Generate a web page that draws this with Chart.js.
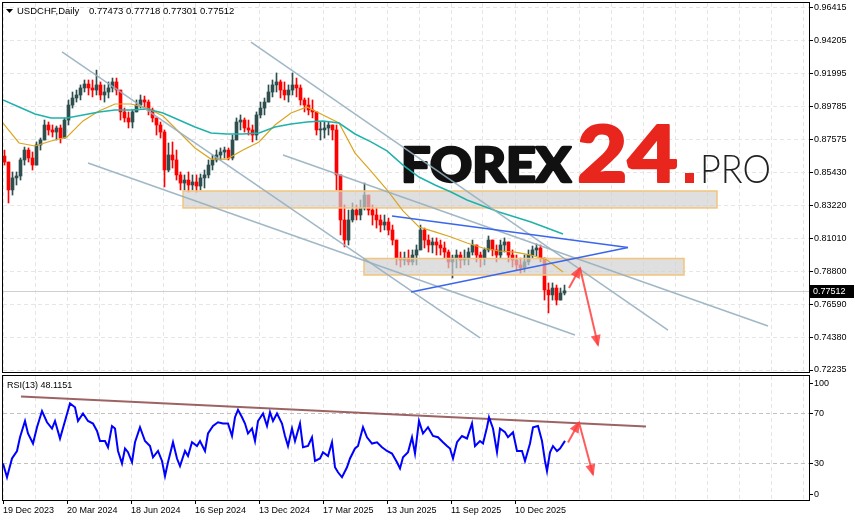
<!DOCTYPE html>
<html>
<head>
<meta charset="utf-8">
<script src="https://cdn.jsdelivr.net/npm/chart.js@4.4.1/dist/chart.umd.min.js"></script>
<style>
  html, body { margin: 0; padding: 0; background: #fff; }
  #wrap { position: relative; width: 855px; height: 521px; overflow: hidden; }
  #priceChart { position: absolute; left: 0; top: 0; }
  #rsiChart { position: absolute; left: 0; top: 373px; }
</style>
</head>
<body>
<div id="wrap">
  <canvas id="priceChart" width="855" height="376"></canvas>
  <canvas id="rsiChart" width="855" height="148"></canvas>
</div>
<script>
// USDCHF daily, one candle here = 4 trading days, day 0 = 19 Dec 2023
const daysPerCandle = 4;
const firstOpen = 0.8650;

const closes = [
  0.8610,0.8424,0.8504,0.8517,0.8624,0.8690,0.8637,0.8590,0.8724,0.8757,
  0.8857,0.8824,0.8810,0.8837,0.8770,0.8890,0.8990,0.9037,0.9057,0.9104,
  0.9130,0.9104,0.9090,0.9124,0.9057,0.9077,0.9104,0.9144,0.9090,0.8944,
  0.8904,0.8877,0.8944,0.8990,0.9024,0.9010,0.8957,0.8904,0.8857,0.8810,
  0.8557,0.8657,0.8624,0.8524,0.8470,0.8490,0.8457,0.8477,0.8450,0.8504,
  0.8524,0.8590,0.8624,0.8657,0.8677,0.8690,0.8637,0.8757,0.8877,0.8890,
  0.8837,0.8824,0.8790,0.8924,0.8970,0.9010,0.9077,0.9124,0.9144,0.9090,
  0.9057,0.9090,0.9124,0.9104,0.9024,0.8990,0.8957,0.8944,0.8824,0.8824,
  0.8837,0.8857,0.8824,0.8524,0.8224,0.8090,0.8224,0.8290,0.8257,0.8304,
  0.8390,0.8290,0.8257,0.8224,0.8190,0.8210,0.8157,0.8090,0.7970,0.7957,
  0.7970,0.7944,0.7990,0.8024,0.8157,0.8090,0.8057,0.8077,0.8057,0.8037,
  0.8010,0.7944,0.7970,0.7990,0.7957,0.7970,0.8010,0.8057,0.7990,0.7970,
  0.8024,0.8090,0.8024,0.7990,0.8057,0.8077,0.7990,0.7957,0.7924,0.7904,
  0.7944,0.7990,0.8024,0.8037,0.7970,0.7757,0.7724,0.7770,0.7690,0.7737,
  0.77512
];
const highs = [
  0.8690,0.8590,0.8544,0.8544,0.8637,0.8710,0.8704,0.8677,0.8744,0.8770,
  0.8890,0.8877,0.8857,0.8850,0.8857,0.8904,0.9024,0.9077,0.9090,0.9124,
  0.9157,0.9157,0.9157,0.9223,0.9144,0.9124,0.9144,0.9170,0.9170,0.9057,
  0.8970,0.8944,0.8957,0.9024,0.9057,0.9050,0.9024,0.8970,0.8904,0.8877,
  0.8824,0.8737,0.8744,0.8690,0.8544,0.8524,0.8544,0.8524,0.8524,0.8530,
  0.8557,0.8624,0.8657,0.8690,0.8704,0.8710,0.8704,0.8790,0.8904,0.8924,
  0.8904,0.8890,0.8857,0.8944,0.9010,0.9037,0.9124,0.9157,0.9204,0.9157,
  0.9144,0.9124,0.9204,0.9170,0.9124,0.9037,0.9037,0.9024,0.8904,0.8877,
  0.8877,0.8877,0.8857,0.8857,0.8524,0.8324,0.8290,0.8337,0.8324,0.8357,
  0.8470,0.8390,0.8324,0.8304,0.8257,0.8257,0.8237,0.8190,0.8057,0.8010,
  0.8010,0.8024,0.8024,0.8057,0.8190,0.8170,0.8124,0.8104,0.8104,0.8090,
  0.8077,0.8024,0.7990,0.8024,0.8010,0.8024,0.8037,0.8090,0.8057,0.8010,
  0.8037,0.8117,0.8090,0.8057,0.8090,0.8104,0.8057,0.8024,0.7990,0.7970,
  0.7990,0.8024,0.8050,0.8064,0.8057,0.7970,0.7804,0.7804,0.7790,0.7770,
  0.7790
];
const lows = [
  0.8590,0.8337,0.8390,0.8457,0.8490,0.8590,0.8610,0.8557,0.8637,0.8690,
  0.8757,0.8790,0.8777,0.8757,0.8737,0.8790,0.8857,0.8970,0.9010,0.9024,
  0.9077,0.9057,0.9044,0.9057,0.9024,0.9010,0.9037,0.9077,0.9057,0.8890,
  0.8877,0.8837,0.8837,0.8944,0.8970,0.8970,0.8924,0.8877,0.8790,0.8770,
  0.8444,0.8544,0.8570,0.8490,0.8424,0.8424,0.8410,0.8424,0.8410,0.8424,
  0.8437,0.8504,0.8557,0.8610,0.8624,0.8637,0.8624,0.8624,0.8757,0.8824,
  0.8810,0.8790,0.8744,0.8757,0.8904,0.8924,0.9024,0.9044,0.9077,0.9037,
  0.9024,0.9010,0.9057,0.9044,0.8990,0.8944,0.8924,0.8904,0.8790,0.8757,
  0.8770,0.8790,0.8757,0.8424,0.8124,0.8044,0.8057,0.8210,0.8224,0.8224,
  0.8290,0.8257,0.8190,0.8170,0.8144,0.8157,0.8124,0.8057,0.7924,0.7910,
  0.7924,0.7924,0.7924,0.7924,0.8024,0.8037,0.8010,0.8004,0.7990,0.7990,
  0.7970,0.7904,0.7837,0.7904,0.7904,0.7924,0.7924,0.7990,0.7944,0.7910,
  0.7924,0.8010,0.7984,0.7944,0.7970,0.8010,0.7944,0.7910,0.7890,0.7870,
  0.7877,0.7924,0.7970,0.7984,0.7944,0.7690,0.7604,0.7690,0.7657,0.7690,
  0.7724
];

// moving averages, one reading every 16 days
const maStep = 16;
const maFast = [
  0.8870,0.8737,0.8717,0.8750,0.8777,0.8884,0.8950,0.8997,0.8997,0.8970,
  0.8917,0.8810,0.8704,0.8630,0.8630,0.8690,0.8744,0.8857,0.8937,0.8977,
  0.8924,0.8870,0.8670,0.8550,0.8424,0.8284,0.8177,0.8144,0.8110,0.8070,
  0.8037,0.8017,0.8010,0.7990,0.7957,0.7877
];
const maSlow = [
  0.9024,0.8977,0.8930,0.8904,0.8904,0.8924,0.8944,0.8957,0.8957,0.8964,
  0.8937,0.8890,0.8844,0.8804,0.8797,0.8797,0.8804,0.8844,0.8864,0.8877,
  0.8884,0.8870,0.8797,0.8744,0.8684,0.8590,0.8510,0.8457,0.8410,0.8357,
  0.8317,0.8277,0.8244,0.8210,0.8170,0.8130
];

// RSI(13)
const rsiDays = [
  0,4,9,14,17,22,25,30,34,39,
  44,49,52,57,62,67,72,75,80,85,
  90,94,97,102,105,109,112,115,119,122,
  125,129,132,137,142,147,150,155,159,162,
  165,170,174,177,182,185,189,194,197,202,
  205,210,215,220,225,229,232,235,239,242,
  245,249,252,255,260,264,267,270,274,279,
  282,285,289,292,297,300,305,309,312,317,
  320,325,329,332,335,339,344,347,352,355,
  360,364,369,374,379,384,389,394,397,400,
  405,409,412,416,420,425,430,435,440,444,
  447,450,454,459,464,469,472,477,480,484,
  486,490,494,497,502,505,510,514,519,522,
  527,530,535,539,542,544,547,550,554,557,
  562
];
const rsiValues = [
  30,19,34,40,51,64,54,46,59,72,
  63,58,64,50,64,78,75,64,70,64,
  62,56,48,48,43,60,58,40,30,42,
  39,31,47,59,48,44,35,40,32,20,
  31,47,34,28,40,36,47,44,48,40,
  54,60,63,62,62,52,67,73,67,62,
  54,58,48,64,70,60,71,64,70,62,
  52,44,58,48,62,43,44,51,32,34,
  39,36,47,27,23,19,27,34,42,44,
  59,51,46,47,43,40,38,31,26,35,
  39,51,38,64,54,59,52,51,47,44,
  42,34,47,52,50,62,44,48,46,59,
  67,58,39,58,55,51,55,40,40,32,
  46,59,60,48,32,24,39,44,40,42,
  48.1151
];

const priceTicks = [0.96415, 0.94205, 0.91995, 0.89785, 0.87575, 0.85430, 0.83220, 0.81010, 0.78800, 0.76590, 0.74380, 0.72235];
const dateLabels = ["19 Dec 2023", "20 Mar 2024", "18 Jun 2024", "16 Sep 2024", "13 Dec 2024", "17 Mar 2025", "13 Jun 2025", "11 Sep 2025", "10 Dec 2025"];
const rsiTickText = ["0", "30", "70", "100"];
const lastBar = [0.77473, 0.77718, 0.77301, 0.77512];

// hand drawn objects on the chart: [day, value, day, value]
const greyLines = [
  [59, 0.9344, 477, 0.7437],
  [248, 0.9410, 665, 0.7490],
  [280, 0.8657, 765, 0.7517],
  [85, 0.8604, 572, 0.7457]
];
const blueLines = [
  [389, 0.8250, 625, 0.8041],
  [408, 0.7744, 625, 0.8041]
];
const priceArrows = [
  [566, 0.7770, 577, 0.7904],
  [577, 0.7904, 595, 0.7390]
];
const rsiTrend = [18, 83.6, 643, 59.6];
const rsiArrows = [
  [565, 46.8, 576, 62.8],
  [576, 62.8, 590, 21.2]
];
// [fromDay, toDay, top price, bottom price]
const zones = [
  [180, 714, 0.8417, 0.8304],
  [361, 681, 0.7967, 0.7857]
];

const totalDays = 806;
const gridStep = 32;
const labelStep = 64;
const bullColor = "#2f4f4f";
const bearColor = "#ff0000";

Chart.defaults.font.family = '"Liberation Sans", Arial, sans-serif';
Chart.defaults.font.size = 9;
Chart.defaults.color = "#000";

// build candle bars
let opens = closes.map((c, k) => k === 0 ? firstOpen : closes[k - 1]);
let wickData = [];
let bodyData = [];
let candleColors = [];
for (let k = 0; k < closes.length; k++) {
  let x = k * daysPerCandle + 1.5;
  let o = opens[k], c = closes[k];
  wickData.push({ x: x, y: [Math.min(lows[k], o, c), Math.max(highs[k], o, c)] });
  bodyData.push({ x: x, y: [o, c] });
  candleColors.push(c >= o ? bullColor : bearColor);
}

function segment(seg) {
  return [{ x: seg[0], y: seg[1] }, { x: seg[2], y: seg[3] }];
}
function lineSet(data, color, width, order, extra) {
  return Object.assign({
    type: "line", data: data, borderColor: color, borderWidth: width,
    pointRadius: 0, fill: false, tension: 0, order: order
  }, extra || {});
}

function xAxis(withLabels) {
  let isLabel = v => v % labelStep === 0 && v / labelStep < dateLabels.length;
  return {
    type: "linear", min: 0, max: totalDays, offset: false,
    afterBuildTicks: s => {
      s.ticks = [];
      for (let d = 0; d < totalDays; d += gridStep) s.ticks.push({ value: d });
    },
    ticks: {
      display: withLabels, autoSkip: false, maxRotation: 0, minRotation: 0,
      align: "start", padding: 1,
      callback: v => isLabel(v) ? dateLabels[v / labelStep] : ""
    },
    grid: {
      offset: false, color: "#e6e6e6", drawTicks: withLabels, tickLength: 3,
      tickColor: c => (c.tick && isLabel(c.tick.value)) ? "#000" : "rgba(0,0,0,0)"
    },
    border: { display: false, dash: [4, 3] },
    afterFit: s => { s.height = withLabels ? 20 : 0; s.paddingLeft = 0; s.paddingRight = 0; }
  };
}

// frame round the plot area
const framePlugin = {
  id: "frame",
  afterDatasetsDraw(chart) {
    let a = chart.chartArea, ctx = chart.ctx;
    ctx.save();
    ctx.strokeStyle = "#000";
    ctx.lineWidth = 1;
    ctx.strokeRect(a.left - 0.5, a.top - 0.5, a.right - a.left + 1, a.bottom - a.top);
    ctx.restore();
  }
};

// arrow heads on datasets marked with arrowHead
const arrowPlugin = {
  id: "arrows",
  afterDatasetsDraw(chart) {
    let ctx = chart.ctx;
    chart.data.datasets.forEach((ds, i) => {
      if (!ds.arrowHead) return;
      let pts = chart.getDatasetMeta(i).data;
      let p1 = pts[pts.length - 2], p2 = pts[pts.length - 1];
      let ang = Math.atan2(p2.y - p1.y, p2.x - p1.x);
      ctx.save();
      ctx.translate(p2.x, p2.y);
      ctx.rotate(ang);
      ctx.fillStyle = ds.borderColor;
      ctx.beginPath();
      ctx.moveTo(2, 0);
      ctx.lineTo(-10, -5);
      ctx.lineTo(-10, 5);
      ctx.closePath();
      ctx.fill();
      ctx.restore();
    });
  }
};

// support / resistance boxes, drawn just over the candles
const zonePlugin = {
  id: "zones",
  afterDatasetDraw(chart, args) {
    if (chart.data.datasets[args.index].label !== "bodies") return;
    let xs = chart.scales.x, ys = chart.scales.y, ctx = chart.ctx;
    ctx.save();
    zones.forEach(z => {
      let x1 = xs.getPixelForValue(z[0]), x2 = xs.getPixelForValue(z[1]);
      let y1 = ys.getPixelForValue(z[2]), y2 = ys.getPixelForValue(z[3]);
      ctx.fillStyle = "rgba(208,208,208,0.68)";
      ctx.fillRect(x1, y1, x2 - x1, y2 - y1);
      ctx.strokeStyle = "#f3c47c";
      ctx.lineWidth = 1.5;
      ctx.strokeRect(x1, y1, x2 - x1, y2 - y1);
    });
    ctx.restore();
  }
};

function fitText(ctx, text, x, baseline, width, stroke) {
  let w = ctx.measureText(text).width;
  ctx.save();
  ctx.translate(x, baseline);
  ctx.scale(width / w, 1);
  ctx.fillText(text, 0, 0);
  if (stroke) {
    ctx.strokeStyle = ctx.fillStyle;
    ctx.lineWidth = stroke;
    ctx.lineJoin = "round";
    ctx.strokeText(text, 0, 0);
  }
  ctx.restore();
}

// watermark, current price line, header and price label
const pricePlugin = {
  id: "priceExtras",
  beforeDatasetsDraw(chart) {
    let ctx = chart.ctx, a = chart.chartArea;
    let y = Math.round(chart.scales.y.getPixelForValue(lastBar[3])) + 0.5;
    ctx.save();
    ctx.strokeStyle = "#d0d0d0";
    ctx.lineWidth = 1;
    ctx.beginPath();
    ctx.moveTo(a.left, y);
    ctx.lineTo(a.right, y);
    ctx.stroke();

    ctx.textBaseline = "alphabetic";
    ctx.fillStyle = "#111";
    ctx.font = '900 48px Lato, "Liberation Sans"';
    fitText(ctx, "FOREX", 401, 182, 170, 2.5);
    ctx.fillStyle = "#e8261e";
    ctx.font = '900 78px Lato, "Liberation Sans"';
    fitText(ctx, "24", 577, 182, 101, 2);
    ctx.fillRect(685, 173, 9, 10);
    ctx.fillStyle = "#222";
    ctx.font = '300 40px Lato, "Liberation Sans"';
    fitText(ctx, "PRO", 700, 183, 71);
    ctx.restore();
  },
  afterDraw(chart) {
    let ctx = chart.ctx, a = chart.chartArea;
    let y = chart.scales.y.getPixelForValue(lastBar[3]);
    ctx.save();
    ctx.fillStyle = "#000";
    ctx.fillRect(a.right + 1, Math.round(y) - 6, 44, 13);
    ctx.fillStyle = "#fff";
    ctx.font = '9px "Liberation Sans"';
    ctx.textBaseline = "middle";
    ctx.fillText(lastBar[3].toFixed(5), a.right + 4, Math.round(y) + 0.5);

    ctx.fillStyle = "#000";
    ctx.beginPath();
    ctx.moveTo(6, 9);
    ctx.lineTo(13, 9);
    ctx.lineTo(9.5, 13);
    ctx.closePath();
    ctx.fill();
    ctx.font = '9.5px "Liberation Sans"';
    ctx.textBaseline = "alphabetic";
    ctx.fillText("USDCHF,Daily", 17, 14);
    ctx.fillText(lastBar.map(v => v.toFixed(5)).join(" "), 89, 14);
    ctx.restore();
  }
};

const rsiPlugin = {
  id: "rsiLabel",
  afterDraw(chart) {
    let ctx = chart.ctx;
    ctx.save();
    ctx.fillStyle = "#000";
    ctx.font = '9px "Liberation Sans"';
    ctx.fillText("RSI(13) " + rsiValues[rsiValues.length - 1].toFixed(4), 7, 15);
    ctx.restore();
  }
};

// main price chart
let priceDatasets = [
  { type: "bar", label: "wicks", data: wickData, backgroundColor: candleColors, barThickness: 1,
    grouped: false, borderWidth: 0, order: 10 },
  { type: "bar", label: "bodies", data: bodyData, backgroundColor: candleColors, barThickness: 3,
    grouped: false, borderWidth: 0, minBarLength: 1, order: 9 },
  lineSet(maFast.map((v, j) => ({ x: j * maStep, y: v })), "#daa520", 1.2, 6),
  lineSet(maSlow.map((v, j) => ({ x: j * maStep, y: v })), "#20b2aa", 1.5, 5)
];
greyLines.forEach(l => priceDatasets.push(lineSet(segment(l), "rgba(150,175,192,0.9)", 1.5, 3)));
blueLines.forEach(l => priceDatasets.push(lineSet(segment(l), "#3a66ee", 1.5, 2)));
priceArrows.forEach(l => priceDatasets.push(lineSet(segment(l), "rgba(255,64,64,0.85)", 2, 1, { arrowHead: true })));

new Chart(document.getElementById("priceChart"), {
  type: "bar",
  data: { datasets: priceDatasets },
  options: {
    responsive: false,
    animation: false,
    devicePixelRatio: 1,
    events: [],
    layout: { padding: { left: 3, top: 3, right: 0, bottom: 3 } },
    plugins: { legend: { display: false }, tooltip: { enabled: false } },
    scales: {
      x: xAxis(false),
      y: {
        position: "right", min: 0.72036, max: 0.96703,
        afterBuildTicks: s => { s.ticks = priceTicks.map(v => ({ value: v })); },
        ticks: { autoSkip: false, padding: 1, callback: v => v.toFixed(5) },
        grid: { color: "#e6e6e6", tickLength: 4, tickColor: "#000" },
        border: { display: false, dash: [4, 3] },
        afterFit: s => { s.width = 46; s.paddingTop = 0; s.paddingBottom = 0; }
      }
    }
  },
  plugins: [pricePlugin, zonePlugin, framePlugin, arrowPlugin]
});

// RSI panel
let rsiDatasets = [
  lineSet(rsiDays.map((d, i) => ({ x: d, y: rsiValues[i] })), "#0000ff", 2, 3),
  lineSet(segment(rsiTrend), "rgba(140,72,72,0.85)", 2, 4)
];
rsiArrows.forEach(l => rsiDatasets.push(lineSet(segment(l), "rgba(255,64,64,0.85)", 2, 1, { arrowHead: true })));

new Chart(document.getElementById("rsiChart"), {
  type: "line",
  data: { datasets: rsiDatasets },
  options: {
    responsive: false,
    animation: false,
    devicePixelRatio: 1,
    events: [],
    layout: { padding: { left: 3, top: 3, right: 0, bottom: 0 } },
    plugins: { legend: { display: false }, tooltip: { enabled: false } },
    scales: {
      x: xAxis(true),
      y: {
        position: "right", min: 0, max: 100,
        afterBuildTicks: s => { s.ticks = [5, 30, 70, 94].map(v => ({ value: v })); },
        ticks: { autoSkip: false, padding: 1, callback: (v, i) => rsiTickText[i] },
        grid: {
          color: c => (c.tick && (c.tick.value === 30 || c.tick.value === 70)) ? "#c2c2c2" : "rgba(0,0,0,0)",
          tickLength: 4, tickColor: "#000"
        },
        border: { display: false, dash: [4, 3] },
        afterFit: s => { s.width = 46; s.paddingTop = 0; s.paddingBottom = 0; }
      }
    }
  },
  plugins: [framePlugin, arrowPlugin, rsiPlugin]
});
</script>
</body>
</html>
